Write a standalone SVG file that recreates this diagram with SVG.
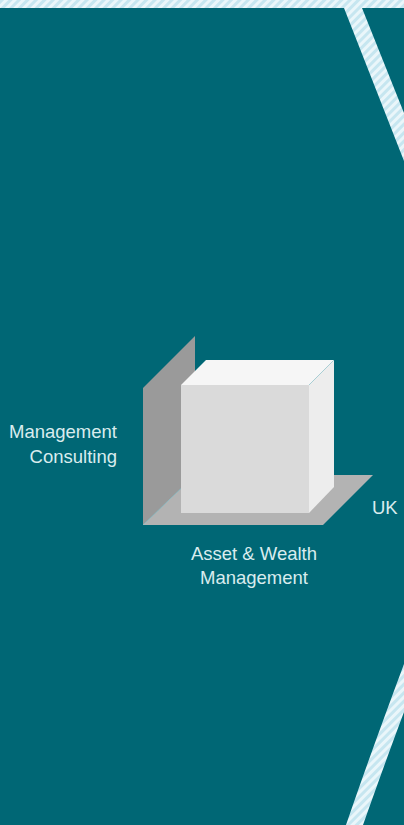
<svg xmlns="http://www.w3.org/2000/svg" width="404" height="825" viewBox="0 0 404 825">
  <defs>
    <pattern id="hatch" patternUnits="userSpaceOnUse" width="6" height="6" patternTransform="rotate(45)">
      <rect width="6" height="6" fill="#eaf6fa"/>
      <rect width="3" height="6" fill="#c6e6f0"/>
    </pattern>
    <style>
      .label { font-family: "Liberation Sans", Arial, sans-serif; font-size: 18.5px; fill: #d9ecee; }
      .edge { fill: none; stroke: #9fcfd6; stroke-width: 0.6; }
    </style>
  </defs>

  <!-- background -->
  <rect width="404" height="825" fill="#006775"/>

  <!-- hatched frame bands -->
  <g id="frame">
    <rect x="0" y="0" width="404" height="8" fill="url(#hatch)"/>
    <polygon points="341,0 360,0 362,8 404,113 404,161 344,8" fill="url(#hatch)"/>
    <path d="M346,825 Q370,755 404,664 L404,712 Q386,760 363,825 Z" fill="url(#hatch)"/>
  </g>

  <!-- 3D cube chart -->
  <g id="cube">
    <!-- back wall -->
    <polygon points="143,525 143,388 195,336 195,475" fill="#9a9a9a"/>
    <!-- floor -->
    <polygon points="143,525 323,525 373,475 195,475" fill="#b3b3b3"/>
    <line class="edge" x1="143" y1="525" x2="195" y2="475"/>
    <!-- cube faces -->
    <polygon points="181,385 206,360 334,360 309,385" fill="#f6f6f6"/>
    <polygon points="309,385 334,360 334,487 309,513" fill="#ededed"/>
    <rect x="181" y="385" width="128" height="128" fill="#dadada"/>
    <line class="edge" x1="309" y1="385" x2="334" y2="360"/>
  </g>

  <!-- axis labels -->
  <g id="label-management-consulting">
    <text class="label" x="117" y="438" text-anchor="end">Management</text>
    <text class="label" x="117" y="463" text-anchor="end">Consulting</text>
  </g>
  <g id="label-uk">
    <text class="label" x="372" y="514">UK</text>
  </g>
  <g id="label-asset-wealth">
    <text class="label" x="254" y="560" text-anchor="middle">Asset &amp; Wealth</text>
    <text class="label" x="254" y="584" text-anchor="middle">Management</text>
  </g>
</svg>
